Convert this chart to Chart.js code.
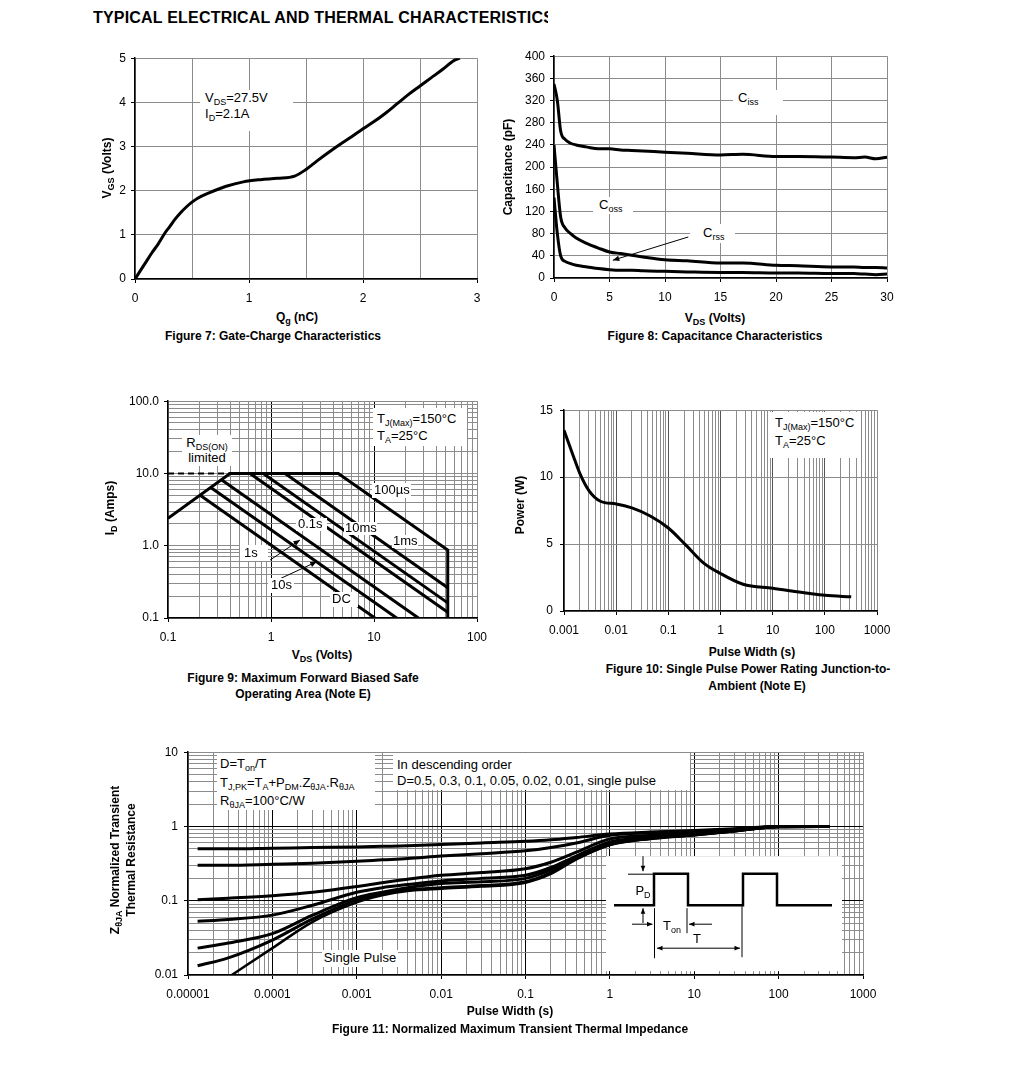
<!DOCTYPE html>
<html>
<head>
<meta charset="utf-8">
<title>Typical Electrical and Thermal Characteristics</title>
<script src="https://cdn.jsdelivr.net/npm/chart.js@4.4.1/dist/chart.umd.min.js"></script>
<style>
  html, body { margin: 0; padding: 0; background: #fff; }
  #page { position: relative; width: 1020px; height: 1074px; overflow: hidden;
          font-family: "Liberation Sans", Arial, sans-serif; color: #000; }
  #page canvas { position: absolute; }
  .t { position: absolute; white-space: nowrap; font-size: 12px; line-height: 14px;
       transform: translate(-50%, -50%); text-align: center; }
  .l { transform: translate(0, -50%); text-align: left; }
  .b { font-weight: bold; }
  .v { transform: translate(-50%, -50%) rotate(-90deg); }
  .a { font-size: 13px; }
  .w { position: absolute; background: #fff; }
  sub { font-size: 9px; vertical-align: -3px; line-height: 0; }
</style>
</head>
<body>
<div id="page">
  <div id="charts"></div>

  <div class="t b l" style="left:93px;top:18px;font-size:16px;letter-spacing:0.2px;width:455px;overflow:hidden;">TYPICAL ELECTRICAL AND THERMAL CHARACTERISTICS</div>

  <!-- Figura 7 -->
  <div class="t b v" style="left:107px;top:168px">V<sub>GS</sub> (Volts)</div>
  <div class="t b" style="left:297px;top:317px">Q<sub>g</sub> (nC)</div>
  <div class="t b" style="left:273px;top:336px">Figure 7: Gate-Charge Characteristics</div>
  <div class="w" style="left:200px;top:90px;width:93px;height:41px"></div>
  <div class="t l a" style="left:205px;top:98px">V<sub>DS</sub>=27.5V</div>
  <div class="t l a" style="left:205px;top:114px">I<sub>D</sub>=2.1A</div>

  <!-- Figura 8 -->
  <div class="t b v" style="left:508px;top:167px">Capacitance (pF)</div>
  <div class="t b" style="left:715px;top:318px">V<sub>DS</sub> (Volts)</div>
  <div class="t b" style="left:715px;top:336px">Figure 8: Capacitance Characteristics</div>
  <div class="w" style="left:733px;top:90px;width:50px;height:25px"></div>
  <div class="t l a" style="left:738px;top:98px">C<sub>iss</sub></div>
  <div class="w" style="left:593px;top:197px;width:40px;height:17px"></div>
  <div class="t l a" style="left:599px;top:205px">C<sub>oss</sub></div>
  <div class="w" style="left:690px;top:224px;width:45px;height:19px"></div>
  <div class="t l a" style="left:703px;top:233px">C<sub>rss</sub></div>

  <!-- Figura 9 -->
  <div class="t b v" style="left:110px;top:508px">I<sub>D</sub> (Amps)</div>
  <div class="t b" style="left:322px;top:655px">V<sub>DS</sub> (Volts)</div>
  <div class="t b" style="left:303px;top:678px">Figure 9: Maximum Forward Biased Safe</div>
  <div class="t b" style="left:303px;top:694px">Operating Area (Note E)</div>
  <div class="w" style="left:182px;top:435px;width:50px;height:31px"></div>
  <div class="t a" style="left:207px;top:443px">R<sub>DS(ON)</sub></div>
  <div class="t a" style="left:207px;top:458px">limited</div>
  <div class="w" style="left:373px;top:408px;width:94px;height:38px"></div>
  <div class="t l a" style="left:377px;top:419px">T<sub>J(Max)</sub>=150°C</div>
  <div class="t l a" style="left:377px;top:436px">T<sub>A</sub>=25°C</div>
  <div class="w" style="left:372px;top:483px;width:39px;height:15px"></div>
  <div class="t l a" style="left:374px;top:490px">100µs</div>
  <div class="w" style="left:296px;top:518px;width:31px;height:13px"></div>
  <div class="t l a" style="left:298px;top:524px">0.1s</div>
  <div class="w" style="left:344px;top:522px;width:33px;height:13px"></div>
  <div class="t l a" style="left:345px;top:528px">10ms</div>
  <div class="w" style="left:392px;top:535px;width:26px;height:13px"></div>
  <div class="t l a" style="left:393px;top:541px">1ms</div>
  <div class="w" style="left:240px;top:545px;width:28px;height:16px"></div>
  <div class="t l a" style="left:244px;top:553px">1s</div>
  <div class="w" style="left:268px;top:578px;width:26px;height:15px"></div>
  <div class="t l a" style="left:271px;top:585px">10s</div>
  <div class="w" style="left:330px;top:592px;width:28px;height:15px"></div>
  <div class="t l a" style="left:332px;top:599px">DC</div>

  <!-- Figura 10 -->
  <div class="t b v" style="left:520px;top:505px">Power (W)</div>
  <div class="t b" style="left:752px;top:652px">Pulse Width (s)</div>
  <div class="t b" style="left:748px;top:669px">Figure 10: Single Pulse Power Rating Junction-to-</div>
  <div class="t b" style="left:757px;top:686px">Ambient (Note E)</div>
  <div class="w" style="left:770px;top:412px;width:90px;height:46px"></div>
  <div class="t l a" style="left:775px;top:423px">T<sub>J(Max)</sub>=150°C</div>
  <div class="t l a" style="left:775px;top:441px">T<sub>A</sub>=25°C</div>

  <!-- Figura 11 -->
  <div class="t b v" style="left:115px;top:860px">Z<sub>θJA</sub> Normalized Transient</div>
  <div class="t b v" style="left:131px;top:860px">Thermal Resistance</div>
  <div class="t b" style="left:510px;top:1011px">Pulse Width (s)</div>
  <div class="t b" style="left:510px;top:1029px">Figure 11: Normalized Maximum Transient Thermal Impedance</div>
  <div class="w" style="left:217px;top:753px;width:158px;height:57px"></div>
  <div class="t l a" style="left:220px;top:764px">D=T<sub>on</sub>/T</div>
  <div class="t l a" style="left:220px;top:783px">T<sub>J,PK</sub>=T<sub>A</sub>+P<sub>DM</sub>.Z<sub>θJA</sub>.R<sub>θJA</sub></div>
  <div class="t l a" style="left:220px;top:801px">R<sub>θJA</sub>=100°C/W</div>
  <div class="w" style="left:393px;top:753px;width:297px;height:37px"></div>
  <div class="t l a" style="left:397px;top:765px">In descending order</div>
  <div class="t l a" style="left:397px;top:781px">D=0.5, 0.3, 0.1, 0.05, 0.02, 0.01, single pulse</div>
  <div class="w" style="left:322px;top:950px;width:76px;height:17px"></div>
  <div class="t a" style="left:360px;top:958px">Single Pulse</div>
  <div class="t a" style="left:643px;top:891px">P<sub>D</sub></div>
  <div class="t a" style="left:672px;top:926px">T<sub>on</sub></div>
  <div class="t a" style="left:697px;top:939px">T</div>
</div>

<script>
// =====================
// DATOS
// =====================
// Fig 7: carga de puerta
const fig7Q   = [0, 0.05, 0.1, 0.15, 0.2, 0.27, 0.3, 0.35, 0.4, 0.45, 0.5, 0.55, 0.65, 0.8, 0.95, 1.1, 1.25, 1.4, 1.5, 1.6, 1.7, 1.8, 1.9, 2.0, 2.1, 2.2, 2.3, 2.4, 2.5, 2.6, 2.7, 2.8, 2.85];
const fig7Vgs = [0, 0.2, 0.4, 0.6, 0.78, 1.07, 1.17, 1.35, 1.5, 1.63, 1.74, 1.83, 1.95, 2.1, 2.2, 2.25, 2.28, 2.33, 2.48, 2.68, 2.87, 3.05, 3.22, 3.4, 3.57, 3.76, 3.97, 4.18, 4.37, 4.56, 4.75, 4.95, 5.0];

// Fig 8: capacidades
const fig8Vds  = [0, 0.3, 0.6, 1, 1.5, 2, 3, 4, 5, 6, 7, 8, 10, 12, 15, 17, 20, 22, 25, 27, 28, 29, 30];
const fig8Ciss = [350, 320, 265, 250, 243, 240, 236, 233, 233, 231, 230, 229, 227, 225, 222, 223, 219, 219, 218, 217, 218, 215, 218];
const fig8Coss = [240, 170, 110, 90, 80, 72, 62, 54, 47, 44, 41, 38, 33, 31, 27, 27, 23, 22, 20, 20, 19, 19, 18];
const fig8Crss = [145, 80, 40, 30, 26, 23, 20, 17, 15, 14, 14, 13, 12, 11, 10, 10, 9, 9, 8, 8, 7, 6, 7];
const fig8Arrow = [12.1, 74, 5.3, 32];

// Fig 9: SOA
const fig9EnvV  = [0.1, 0.4, 4.5, 52, 52];
const fig9EnvI  = [2.4, 10, 10, 0.87, 0.1];
const fig9RdsV  = [0.1, 0.4];
const fig9RdsI  = [10, 10];
const fig9Ms1V  = [1.37, 52];
const fig9Ms1I  = [10, 0.263];
const fig9Ms10V = [0.84, 52];
const fig9Ms10I = [10, 0.162];
const fig9S01V  = [0.625, 52];
const fig9S01I  = [10, 0.12];
const fig9S1V   = [0.33, 27];
const fig9S1I   = [8.2, 0.1];
const fig9S10V  = [0.26, 16.6];
const fig9S10I  = [6.4, 0.1];
const fig9DcV   = [0.205, 10.2];
const fig9DcI   = [5.0, 0.1];
const fig9Arrows = [[0.98, 0.634, 1.91, 1.2], [0.98, 0.302, 2.78, 0.6]];
const fig9XVals = [0.1, 1, 10, 100];
const fig9XLabels = ['0.1', '1', '10', '100'];
const fig9YVals = [0.1, 1, 10, 100];
const fig9YLabels = ['0.1', '1.0', '10.0', '100.0'];

// Fig 10: potencia de pulso único
const fig10T = [0.001, 0.0015, 0.002, 0.003, 0.005, 0.01, 0.02, 0.045, 0.1, 0.22, 0.47, 1, 2.7, 10, 52, 100, 320];
const fig10P = [13.5, 11.6, 10.3, 9.0, 8.2, 8.0, 7.7, 7.1, 6.2, 4.9, 3.6, 2.8, 2.0, 1.7, 1.3, 1.17, 1.06];
const fig10XVals = [0.001, 0.01, 0.1, 1, 10, 100, 1000];
const fig10XLabels = ['0.001', '0.01', '0.1', '1', '10', '100', '1000'];

// Fig 11: impedancia térmica transitoria
const fig11T    = [1.3e-5, 3e-5, 1e-4, 3e-4, 1e-3, 2e-3, 4e-3, 1e-2, 3e-2, 0.1, 0.2, 0.4, 1, 3, 10, 30, 100, 400];
const fig11D05  = [0.50, 0.50, 0.51, 0.52, 0.53, 0.54, 0.55, 0.57, 0.60, 0.63, 0.66, 0.71, 0.79, 0.84, 0.88, 0.93, 1.0, 1.0];
const fig11D03  = [0.30, 0.30, 0.31, 0.32, 0.34, 0.355, 0.37, 0.40, 0.43, 0.47, 0.52, 0.60, 0.76, 0.82, 0.86, 0.92, 1.0, 1.0];
const fig11D01  = [0.103, 0.108, 0.117, 0.13, 0.155, 0.175, 0.195, 0.22, 0.24, 0.27, 0.33, 0.45, 0.68, 0.76, 0.82, 0.9, 1.0, 1.0];
const fig11D005 = [0.053, 0.056, 0.064, 0.087, 0.13, 0.15, 0.165, 0.185, 0.20, 0.22, 0.28, 0.40, 0.62, 0.72, 0.79, 0.88, 0.99, 1.0];
const fig11D002 = [0.023, 0.027, 0.036, 0.064, 0.11, 0.13, 0.15, 0.17, 0.18, 0.20, 0.26, 0.38, 0.59, 0.70, 0.78, 0.87, 0.99, 1.0];
const fig11D001 = [0.0133, 0.017, 0.0295, 0.057, 0.102, 0.122, 0.14, 0.15, 0.16, 0.18, 0.24, 0.37, 0.57, 0.69, 0.77, 0.87, 0.99, 1.0];
const fig11SingleT = [3.3e-5, 1e-4, 3e-4, 1e-3, 2e-3, 4e-3, 1e-2, 3e-2, 0.1, 0.2, 0.4, 1, 3, 10, 30, 100, 400];
const fig11Single  = [0.01, 0.023, 0.052, 0.095, 0.118, 0.135, 0.145, 0.155, 0.175, 0.23, 0.36, 0.56, 0.68, 0.76, 0.86, 0.99, 1.0];
const fig11XVals = [1e-5, 1e-4, 1e-3, 1e-2, 0.1, 1, 10, 100, 1000];
const fig11XLabels = ['0.00001', '0.0001', '0.001', '0.01', '0.1', '1', '10', '100', '1000'];
const fig11YVals = [0.01, 0.1, 1, 10];
const fig11YLabels = ['0.01', '0.1', '1', '10'];

// =====================
// UTILIDADES
// =====================
Chart.defaults.font.family = '"Liberation Sans", Arial, sans-serif';
Chart.defaults.font.size = 12;
Chart.defaults.color = '#000';

const GRID = '#8c8c8c';
const NONE = 'rgba(0,0,0,0)';

function pts(xs, ys) { return xs.map((x, i) => ({ x: x, y: ys[i] })); }

function isDecade(v) { const l = Math.log10(v); return Math.abs(l - Math.round(l)) < 1e-6; }

// todas las líneas 1..9 de cada década
function logGrid(e0, e1) {
  const out = [];
  for (let e = e0; e < e1; e++) for (let d = 1; d < 10; d++) out.push(d * Math.pow(10, e));
  out.push(Math.pow(10, e1));
  return out;
}

function labelFor(vals, labels) {
  return v => { const i = vals.findIndex(u => Math.abs(v / u - 1) < 1e-6); return i < 0 ? '' : labels[i]; };
}

function decadeColor(min, max, col) {
  return ctx => {
    const v = ctx.tick && ctx.tick.value;
    if (v === undefined) return GRID;
    if (Math.abs(v / min - 1) < 1e-6 || Math.abs(v / max - 1) < 1e-6) return GRID;
    return isDecade(v) ? col : GRID;
  };
}

function decadeTick(ctx) { return ctx.tick && isDecade(ctx.tick.value) ? '#000' : NONE; }

function scale(o) {
  const s = {
    type: o.type || 'linear',
    position: o.pos,
    min: o.min, max: o.max,
    afterFit: sc => { if (o.pos === 'left') sc.width = o.size; else sc.height = o.size; },
    ticks: { autoSkip: false, maxRotation: 0, minRotation: 0, padding: o.pad, color: '#000',
             font: { size: 12 }, callback: o.label },
    grid: { color: o.grid || GRID, lineWidth: 1, tickLength: 4, tickColor: o.tick || '#000' },
    border: { color: '#000', width: 1.5 }
  };
  if (o.step) s.ticks.stepSize = o.step;
  if (o.ticks) s.afterBuildTicks = sc => { sc.ticks = o.ticks.map(v => ({ value: v })); };
  return s;
}

function curve(data, w, smooth, dash) {
  return { data: data, borderColor: '#000', borderWidth: w || 3, pointRadius: 0, fill: false,
           tension: 0, cubicInterpolationMode: smooth ? 'monotone' : 'default', borderDash: dash || [] };
}

function drawArrow(ctx, x1, y1, x2, y2, head) {
  const a = Math.atan2(y2 - y1, x2 - x1);
  ctx.beginPath(); ctx.moveTo(x1, y1); ctx.lineTo(x2, y2); ctx.stroke();
  ctx.beginPath();
  ctx.moveTo(x2, y2);
  ctx.lineTo(x2 - head * Math.cos(a - 0.4), y2 - head * Math.sin(a - 0.4));
  ctx.lineTo(x2 - head * Math.cos(a + 0.4), y2 - head * Math.sin(a + 0.4));
  ctx.closePath(); ctx.fill();
}

// flechas de anotación en coordenadas de datos
const arrowPlugin = {
  id: 'arrows',
  afterDatasetsDraw(chart, args, opts) {
    const list = opts.list || [];
    const ctx = chart.ctx, xs = chart.scales.x, ys = chart.scales.y;
    ctx.save();
    ctx.strokeStyle = '#000'; ctx.fillStyle = '#000'; ctx.lineWidth = 1;
    list.forEach(a => drawArrow(ctx, xs.getPixelForValue(a[0]), ys.getPixelForValue(a[1]),
                                xs.getPixelForValue(a[2]), ys.getPixelForValue(a[3]), 7));
    ctx.restore();
  }
};

// esquema de pulsos (Fig 11), en px relativos al área del gráfico
const insetPlugin = {
  id: 'inset',
  beforeDatasetsDraw(chart) {
    const a = chart.chartArea, ctx = chart.ctx;
    ctx.save(); ctx.fillStyle = '#fff';
    ctx.fillRect(a.left + 418, a.top + 104, 236, 115);
    ctx.restore();
  },
  afterDatasetsDraw(chart) {
    const a = chart.chartArea, ctx = chart.ctx;
    const X = v => a.left + v, Y = v => a.top + v;
    const wave = [[426, 153], [466, 153], [466, 121.5], [500, 121.5], [500, 153], [555, 153],
                  [555, 121.5], [589, 121.5], [589, 153], [644, 153]];
    ctx.save();
    ctx.strokeStyle = '#000'; ctx.fillStyle = '#000';
    ctx.lineWidth = 2.5;
    ctx.beginPath();
    wave.forEach((p, i) => i ? ctx.lineTo(X(p[0]), Y(p[1])) : ctx.moveTo(X(p[0]), Y(p[1])));
    ctx.stroke();
    ctx.lineWidth = 1;
    [[440, 122, 466, 122], [466.5, 156, 466.5, 206], [499, 156, 499, 181], [554, 154, 554, 205]].forEach(l => {
      ctx.beginPath(); ctx.moveTo(X(l[0]), Y(l[1])); ctx.lineTo(X(l[2]), Y(l[3])); ctx.stroke();
    });
    [[455, 104, 455, 119], [455, 171, 455, 156], [444, 172, 464.5, 172], [524, 172, 501, 172],
     [510, 196, 552, 196], [510, 196, 469, 196]].forEach(l => drawArrow(ctx, X(l[0]), Y(l[1]), X(l[2]), Y(l[3]), 6));
    ctx.restore();
  }
};

function makeChart(area, pad, scales, datasets, plugins, pluginOpts) {
  const c = document.createElement('canvas');
  const w = area.r - area.l + pad.l + pad.r, h = area.b - area.t + pad.t + pad.b;
  c.width = w; c.height = h;
  c.style.left = (area.l - pad.l) + 'px'; c.style.top = (area.t - pad.t) + 'px';
  c.style.width = w + 'px'; c.style.height = h + 'px';
  document.getElementById('charts').appendChild(c);
  return new Chart(c, {
    type: 'line',
    data: { datasets: datasets },
    options: {
      responsive: false, animation: false, events: [],
      layout: { padding: { left: 0, top: pad.t, right: pad.r, bottom: 0 } },
      plugins: Object.assign({ legend: { display: false }, tooltip: { enabled: false } }, pluginOpts || {}),
      scales: scales
    },
    plugins: plugins || []
  });
}

// =====================
// FIGURA 7
// =====================
makeChart({ l: 135, t: 58, r: 477, b: 279 }, { l: 40, t: 12, r: 20, b: 30 }, {
  x: scale({ pos: 'bottom', min: 0, max: 3, step: 0.5, size: 30, pad: 8,
             label: v => Number.isInteger(v) ? String(v) : '',
             tick: ctx => ctx.tick && Number.isInteger(ctx.tick.value) ? '#000' : NONE }),
  y: scale({ pos: 'left', min: 0, max: 5, step: 1, size: 40, pad: 5 })
}, [curve(pts(fig7Q, fig7Vgs), 3, true)]);

// =====================
// FIGURA 8
// =====================
makeChart({ l: 554, t: 56, r: 887, b: 278 }, { l: 45, t: 12, r: 20, b: 30 }, {
  x: scale({ pos: 'bottom', min: 0, max: 30, step: 5, size: 30, pad: 8 }),
  y: scale({ pos: 'left', min: 0, max: 400, step: 40, size: 45, pad: 5 })
}, [
  curve(pts(fig8Vds, fig8Ciss), 3, true),
  curve(pts(fig8Vds, fig8Coss), 3, true),
  curve(pts(fig8Vds, fig8Crss), 3, true)
], [arrowPlugin], { arrows: { list: [fig8Arrow] } });

// =====================
// FIGURA 9
// =====================
makeChart({ l: 168, t: 401, r: 477, b: 618 }, { l: 50, t: 12, r: 20, b: 30 }, {
  x: scale({ type: 'logarithmic', pos: 'bottom', min: 0.1, max: 100, size: 30, pad: 8,
             ticks: logGrid(-1, 2), label: labelFor(fig9XVals, fig9XLabels),
             grid: decadeColor(0.1, 100, '#000'), tick: decadeTick }),
  y: scale({ type: 'logarithmic', pos: 'left', min: 0.1, max: 100, size: 50, pad: 5,
             ticks: logGrid(-1, 2), label: labelFor(fig9YVals, fig9YLabels), tick: decadeTick })
}, [
  curve(pts(fig9EnvV, fig9EnvI), 3),
  curve(pts(fig9RdsV, fig9RdsI), 2, false, [6, 4]),
  curve(pts(fig9Ms1V, fig9Ms1I), 3),
  curve(pts(fig9Ms10V, fig9Ms10I), 3),
  curve(pts(fig9S01V, fig9S01I), 3),
  curve(pts(fig9S1V, fig9S1I), 3),
  curve(pts(fig9S10V, fig9S10I), 3),
  curve(pts(fig9DcV, fig9DcI), 3)
], [arrowPlugin], { arrows: { list: fig9Arrows } });

// =====================
// FIGURA 10
// =====================
makeChart({ l: 564, t: 408, r: 877, b: 611 }, { l: 45, t: 12, r: 25, b: 30 }, {
  x: scale({ type: 'logarithmic', pos: 'bottom', min: 0.001, max: 1000, size: 30, pad: 8,
             ticks: logGrid(-3, 3), label: labelFor(fig10XVals, fig10XLabels),
             grid: decadeColor(0.001, 1000, '#555'), tick: decadeTick }),
  y: scale({ pos: 'left', min: 0, max: 15, step: 5, size: 45, pad: 7 })
}, [curve(pts(fig10T, fig10P), 3, true)]);

// =====================
// FIGURA 11
// =====================
makeChart({ l: 188, t: 751, r: 863, b: 975 }, { l: 45, t: 12, r: 25, b: 30 }, {
  x: scale({ type: 'logarithmic', pos: 'bottom', min: 1e-5, max: 1000, size: 30, pad: 8,
             ticks: logGrid(-5, 3), label: labelFor(fig11XVals, fig11XLabels),
             grid: decadeColor(1e-5, 1000, '#000'), tick: decadeTick }),
  y: scale({ type: 'logarithmic', pos: 'left', min: 0.01, max: 10, size: 45, pad: 6,
             ticks: logGrid(-2, 1), label: labelFor(fig11YVals, fig11YLabels),
             grid: decadeColor(0.01, 10, '#000'), tick: decadeTick })
}, [
  curve(pts(fig11T, fig11D05), 3, true),
  curve(pts(fig11T, fig11D03), 3, true),
  curve(pts(fig11T, fig11D01), 3, true),
  curve(pts(fig11T, fig11D005), 3, true),
  curve(pts(fig11T, fig11D002), 3, true),
  curve(pts(fig11T, fig11D001), 3, true),
  curve(pts(fig11SingleT, fig11Single), 2.5, true)
], [insetPlugin]);
</script>
</body>
</html>
